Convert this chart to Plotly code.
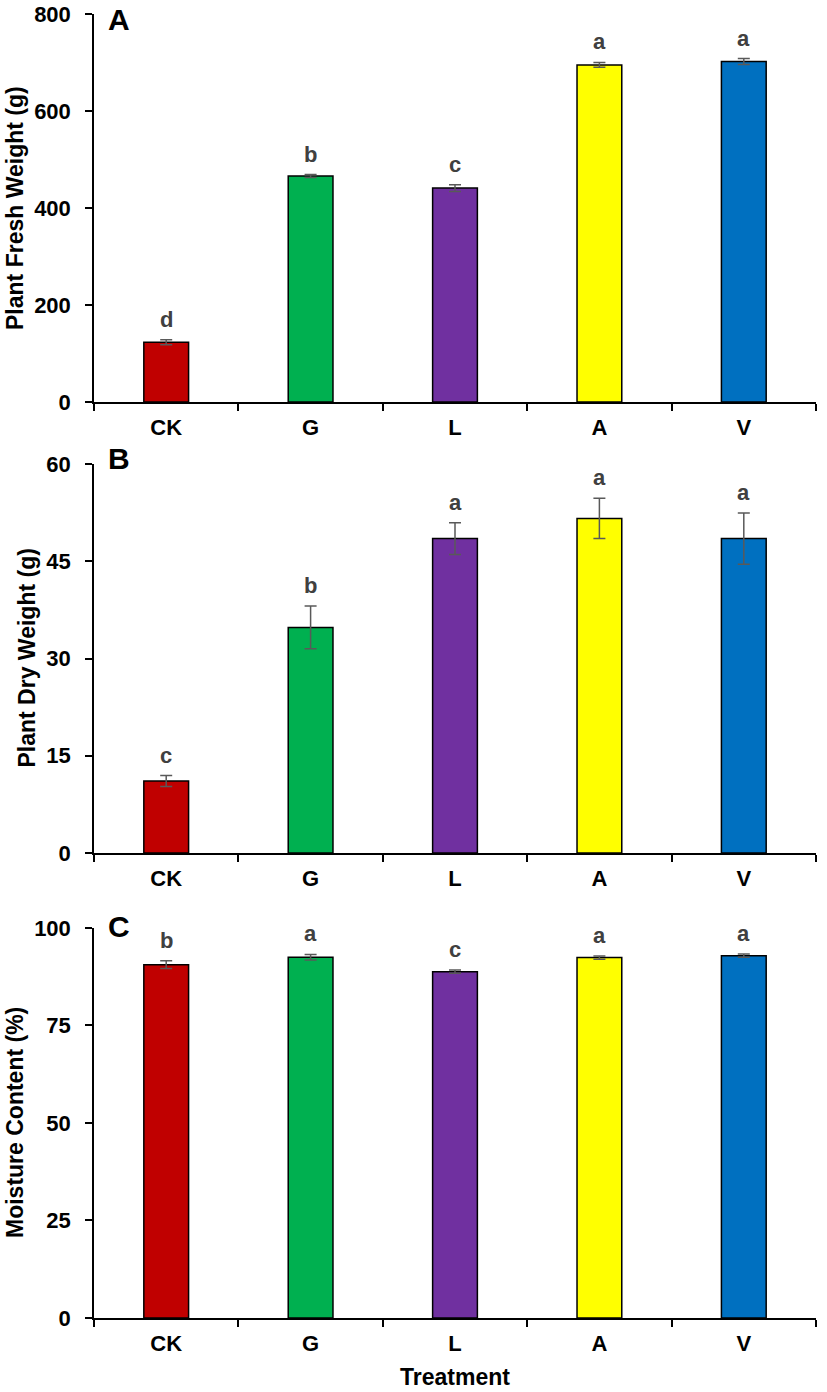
import plotly.graph_objects as go

treatments = ["CK", "G", "L", "A", "V"]
bar_colors = ["#C00000", "#00B050", "#7030A0", "#FFFF00", "#0070C0"]

fresh_weight = [123, 466, 441, 695, 702]
fresh_err = [5, 3, 7, 5, 6]
fresh_letters = ["d", "b", "c", "a", "a"]

dry_weight = [11.1, 34.8, 48.5, 51.6, 48.5]
dry_err = [0.85, 3.3, 2.45, 3.1, 3.95]
dry_letters = ["c", "b", "a", "a", "a"]

moisture = [90.6, 92.5, 88.8, 92.4, 92.9]
moisture_err = [1.0, 0.7, 0.4, 0.4, 0.4]
moisture_letters = ["b", "a", "c", "a", "a"]

panels = [
    dict(vals=fresh_weight, err=fresh_err, letters=fresh_letters, rng=[0, 800], dtick=200,
         title="Plant Fresh Weight (g)", tag="A", dom=[0.7025, 1.0], title_x=15),
    dict(vals=dry_weight, err=dry_err, letters=dry_letters, rng=[0, 60], dtick=15,
         title="Plant Dry Weight (g)", tag="B", dom=[0.3566, 0.6549], title_x=27),
    dict(vals=moisture, err=moisture_err, letters=moisture_letters, rng=[0, 100], dtick=25,
         title="Moisture Content (%)", tag="C", dom=[0.0, 0.2991], title_x=15),
]

W, H = 827, 1392
PL, PR, PT, PB = 94, 816, 14, 1318  # plot area in page pixels
ML, MT, MR, MB = PL, PT, W - PR, H - PB
PW = PR - PL
PH = PB - PT

FONT = "Liberation Sans, Arial, sans-serif"

fig = go.Figure()
annotations = []
tick_font = dict(family=FONT, size=22, color="black", weight="bold")
layout_axes = {}

for i, p in enumerate(panels):
    n = "" if i == 0 else str(i + 1)
    fig.add_trace(go.Bar(
        x=treatments, y=p["vals"],
        marker=dict(color=bar_colors, line=dict(color="black", width=1.5)),
        width=0.31,
        error_y=dict(type="data", array=p["err"], visible=True,
                     color="#595959", thickness=1.5, width=6),
        xaxis="x" + n, yaxis="y" + n, showlegend=False, hoverinfo="skip",
    ))
    layout_axes["xaxis" + n] = dict(
        domain=[0, 1], anchor="y" + n, type="category", automargin=False,
        showline=True, linecolor="black", linewidth=1.5,
        ticks="outside", tickson="boundaries", ticklen=7, tickwidth=1.5, tickcolor="black",
        tickfont=tick_font, ticklabelstandoff=5, showgrid=False, zeroline=False,
        range=[-0.5, 4.5],
    )
    layout_axes["yaxis" + n] = dict(
        domain=p["dom"], anchor="x" + n, range=p["rng"], dtick=p["dtick"], automargin=False,
        showline=True, linecolor="black", linewidth=1.5,
        ticks="outside", ticklen=7, tickwidth=1.5, tickcolor="black",
        tickfont=tick_font, ticklabelstandoff=10, showgrid=False, zeroline=False,
    )
    for t, v, e, l in zip(treatments, p["vals"], p["err"], p["letters"]):
        annotations.append(dict(
            x=t, y=v + e, xref="x" + n, yref="y" + n, text=l, showarrow=False,
            yanchor="bottom", yshift=6,
            font=dict(family=FONT, size=22, color="#404040", weight="bold"),
        ))
    annotations.append(dict(
        x=(p["title_x"] - PL) / PW, y=(p["dom"][0] + p["dom"][1]) / 2,
        xref="paper", yref="paper", text=p["title"], textangle=-90,
        showarrow=False, xanchor="center", yanchor="middle",
        font=dict(family=FONT, size=23, color="black", weight="bold"),
    ))

tag_centers = [19, 459, 926]
for p, yc in zip(panels, tag_centers):
    annotations.append(dict(
        x=(106 - PL) / PW, y=(PB - yc) / PH, xref="paper", yref="paper",
        text=p["tag"], showarrow=False, xanchor="left", yanchor="middle",
        font=dict(family=FONT, size=30, color="black", weight="bold"),
    ))

annotations.append(dict(
    x=0.5, y=(PB - H) / PH, xref="paper", yref="paper",
    text="Treatment", showarrow=False, xanchor="center", yanchor="bottom",
    font=dict(family=FONT, size=23, color="black", weight="bold"),
))

fig.update_layout(
    width=W, height=H,
    margin=dict(l=ML, r=MR, t=MT, b=MB, pad=0),
    paper_bgcolor="white", plot_bgcolor="white",
    annotations=annotations,
    **layout_axes,
)

fig.write_html(
    "out.html",
    config={"displayModeBar": False},
    post_script="document.body.style.margin='0px';document.body.style.padding='0px';"
                "document.documentElement.style.overflow='hidden';",
)
